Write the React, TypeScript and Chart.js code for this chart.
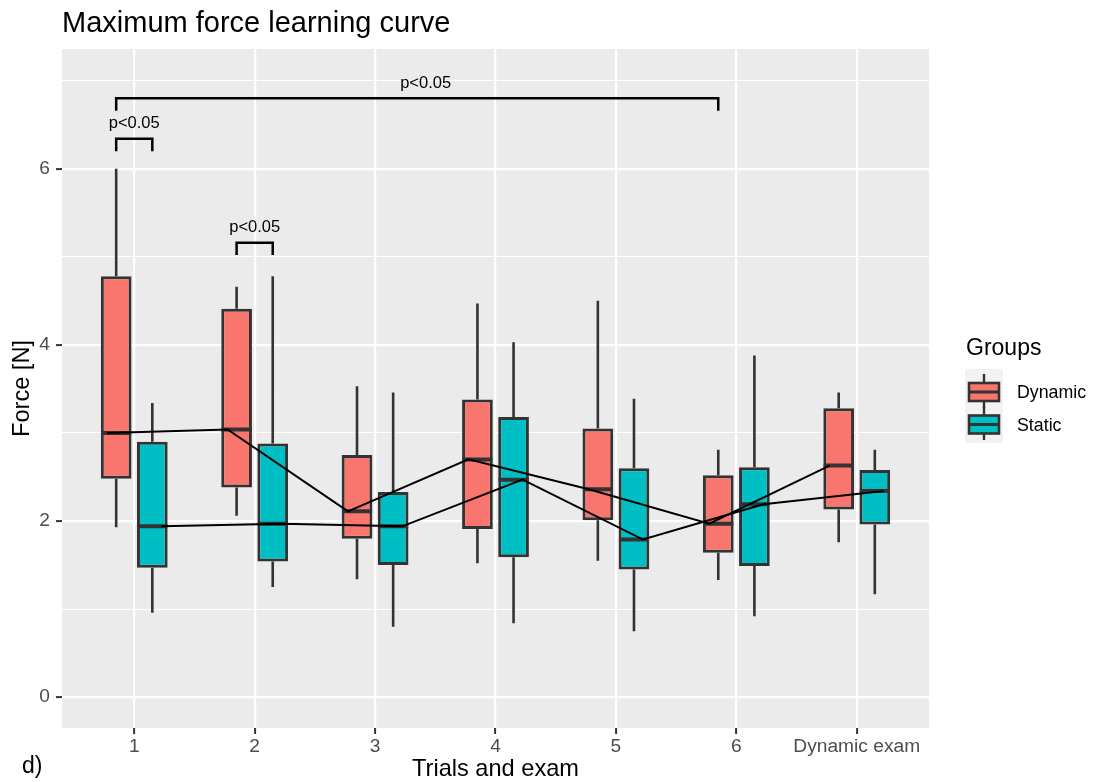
import React, { useEffect, useRef } from 'react';
import { Chart, registerables } from 'chart.js';

Chart.register(...registerables);

const FONT = '"Liberation Sans", Arial, Helvetica, sans-serif';

// ---- data ----
const CATEGORIES = ['1', '2', '3', '4', '5', '6', 'Dynamic exam'];
const GROUPS = ['Dynamic', 'Static'];
const Y_TICKS = [0, 1, 2, 3, 4, 5, 6, 7];

const DYN_MIN = [1.93, 2.06, 1.34, 1.52, 1.55, 1.33, 1.76];
const DYN_Q1 = [2.48, 2.38, 1.8, 1.91, 2.01, 1.64, 2.13];
const DYN_MED = [3.0, 3.04, 2.11, 2.7, 2.36, 1.97, 2.63];
const DYN_Q3 = [4.78, 4.41, 2.75, 3.38, 3.05, 2.52, 3.28];
const DYN_MAX = [6.0, 4.66, 3.53, 4.47, 4.5, 2.81, 3.46];

const STA_MIN = [0.96, 1.25, 0.8, 0.84, 0.75, 0.92, 1.17];
const STA_Q1 = [1.47, 1.54, 1.5, 1.59, 1.45, 1.49, 1.96];
const STA_MED = [1.94, 1.97, 1.94, 2.47, 1.79, 2.19, 2.34];
const STA_Q3 = [2.9, 2.88, 2.33, 3.18, 2.6, 2.61, 2.58];
const STA_MAX = [3.34, 4.78, 3.46, 4.03, 3.39, 3.88, 2.81];

// significance brackets
const BRACKET_FROM_CAT = [1, 1, 2];
const BRACKET_FROM_GROUP = ['Dynamic', 'Dynamic', 'Dynamic'];
const BRACKET_TO_CAT = [6, 1, 2];
const BRACKET_TO_GROUP = ['Dynamic', 'Static', 'Static'];
const BRACKET_Y = [6.8, 6.34, 5.16];
const BRACKET_LABEL = ['p<0.05', 'p<0.05', 'p<0.05'];
const BRACKET_LABEL_X = [3.42, 1.0, 2.0];

// ---- styles ----
const DYN_COLOR = '#F8766D';
const STA_COLOR = '#00BFC4';
const EDGE = '#333333';
const BOX_DODGE = 0.15;
const HALF_BOX = 0.125;
const LINE_DODGE = 0.225;
const LEG = 0.14;
const LABEL_GAP = 0.17;

const groupOffset = (g: string) => (g === 'Dynamic' ? -BOX_DODGE : BOX_DODGE);

function boxData(off: number, q1: number[], q3: number[]) {
  return CATEGORIES.map((_, i) => ({ x: i + 1 + off, y: [q1[i], q3[i]] }));
}

function whiskerData(off: number, mn: number[], q1: number[], q3: number[], mx: number[]) {
  const pts: any[] = [];
  CATEGORIES.forEach((_, i) => {
    const x = i + 1 + off;
    pts.push({ x, y: mx[i] }, { x, y: q3[i] }, { x, y: null }, { x, y: q1[i] }, { x, y: mn[i] }, { x, y: null });
  });
  return pts;
}

function medianData(off: number, med: number[]) {
  const pts: any[] = [];
  CATEGORIES.forEach((_, i) => {
    const x = i + 1 + off;
    pts.push({ x: x - HALF_BOX, y: med[i] }, { x: x + HALF_BOX, y: med[i] }, { x: x + HALF_BOX, y: null });
  });
  return pts;
}

function trendData(off: number, med: number[]) {
  return CATEGORIES.map((_, i) => ({ x: i + 1 + off, y: med[i] }));
}

function bracketData(i: number) {
  const x1 = BRACKET_FROM_CAT[i] + groupOffset(BRACKET_FROM_GROUP[i]);
  const x2 = BRACKET_TO_CAT[i] + groupOffset(BRACKET_TO_GROUP[i]);
  const yt = BRACKET_Y[i];
  return [
    { x: x1, y: yt - LEG },
    { x: x1, y: yt },
    { x: x2, y: yt },
    { x: x2, y: yt - LEG },
  ];
}

const lineBase = {
  type: 'line' as const,
  pointRadius: 0,
  spanGaps: false,
  fill: false,
  tension: 0,
};

const bgPlugin = {
  id: 'panelBg',
  beforeDraw(chart: any) {
    const { ctx, chartArea: a, width, height } = chart;
    ctx.save();
    ctx.fillStyle = '#FFFFFF';
    ctx.fillRect(0, 0, width, height);
    ctx.fillStyle = '#EBEBEB';
    ctx.fillRect(a.left, a.top, a.right - a.left, a.bottom - a.top);
    ctx.restore();
  },
};

const overlayPlugin = {
  id: 'overlay',
  afterDatasetsDraw(chart: any) {
    const { ctx, scales } = chart;
    const xs = scales.x;
    const ys = scales.y;
    ctx.save();
    ctx.font = `16.5px ${FONT}`;
    ctx.fillStyle = '#000000';
    ctx.textAlign = 'center';
    ctx.textBaseline = 'middle';
    BRACKET_LABEL.forEach((t, i) => {
      ctx.fillText(t, xs.getPixelForValue(BRACKET_LABEL_X[i]), ys.getPixelForValue(BRACKET_Y[i] + LABEL_GAP));
    });
    ctx.restore();
  },
  afterDraw(chart: any) {
    const { ctx } = chart;
    ctx.save();
    // title
    ctx.fillStyle = '#000000';
    ctx.textAlign = 'left';
    ctx.textBaseline = 'alphabetic';
    ctx.font = `29px ${FONT}`;
    ctx.fillText('Maximum force learning curve', 62, 32);
    // tag
    ctx.font = `23px ${FONT}`;
    ctx.fillText('d)', 22, 773);
    // legend
    ctx.fillText('Groups', 966, 355);
    const keyX = 965;
    const keyW = 38;
    const keyTop = 369;
    const keyH = 37;
    ctx.fillStyle = '#F2F2F2';
    ctx.fillRect(keyX, keyTop, keyW, keyH * GROUPS.length);
    const centers = [392, 424.5];
    const textYs = [393, 426];
    GROUPS.forEach((g, i) => {
      const cx = keyX + keyW / 2;
      const cy = centers[i];
      ctx.strokeStyle = EDGE;
      ctx.lineWidth = 2.4;
      ctx.beginPath();
      ctx.moveTo(cx, Math.max(keyTop + 3, cy - 18));
      ctx.lineTo(cx, Math.min(keyTop + keyH * GROUPS.length - 3, cy + 16));
      ctx.stroke();
      ctx.fillStyle = i === 0 ? DYN_COLOR : STA_COLOR;
      ctx.fillRect(cx - 15, cy - 9, 30, 18);
      ctx.lineWidth = 2.6;
      ctx.strokeRect(cx - 15, cy - 9, 30, 18);
      ctx.lineWidth = 3;
      ctx.beginPath();
      ctx.moveTo(cx - 15, cy);
      ctx.lineTo(cx + 15, cy);
      ctx.stroke();
      ctx.fillStyle = '#000000';
      ctx.font = `17.8px ${FONT}`;
      ctx.textBaseline = 'middle';
      ctx.fillText(g, 1017, textYs[i]);
      ctx.textBaseline = 'alphabetic';
    });
    ctx.restore();
  },
};

export default function App() {
  const ref = useRef<HTMLCanvasElement | null>(null);

  useEffect(() => {
    if (!ref.current) return;
    Chart.defaults.font.family = FONT;

    const datasets: any[] = [
      {
        ...lineBase,
        label: 'whiskers-dyn',
        data: whiskerData(-BOX_DODGE, DYN_MIN, DYN_Q1, DYN_Q3, DYN_MAX),
        borderColor: EDGE,
        borderWidth: 2.6,
        order: 5,
      },
      {
        ...lineBase,
        label: 'whiskers-sta',
        data: whiskerData(BOX_DODGE, STA_MIN, STA_Q1, STA_Q3, STA_MAX),
        borderColor: EDGE,
        borderWidth: 2.6,
        order: 5,
      },
      {
        type: 'bar',
        label: 'Dynamic',
        data: boxData(-BOX_DODGE, DYN_Q1, DYN_Q3),
        backgroundColor: DYN_COLOR,
        borderColor: EDGE,
        borderWidth: 3,
        borderSkipped: false,
        grouped: false,
        barPercentage: 0.85,
        categoryPercentage: 1,
        order: 4,
      },
      {
        type: 'bar',
        label: 'Static',
        data: boxData(BOX_DODGE, STA_Q1, STA_Q3),
        backgroundColor: STA_COLOR,
        borderColor: EDGE,
        borderWidth: 3,
        borderSkipped: false,
        grouped: false,
        barPercentage: 0.85,
        categoryPercentage: 1,
        order: 4,
      },
      {
        ...lineBase,
        label: 'median-dyn',
        data: medianData(-BOX_DODGE, DYN_MED),
        borderColor: EDGE,
        borderWidth: 4,
        borderCapStyle: 'butt',
        order: 3,
      },
      {
        ...lineBase,
        label: 'median-sta',
        data: medianData(BOX_DODGE, STA_MED),
        borderColor: EDGE,
        borderWidth: 4,
        borderCapStyle: 'butt',
        order: 3,
      },
      {
        ...lineBase,
        label: 'trend-dyn',
        data: trendData(-LINE_DODGE, DYN_MED),
        borderColor: '#000000',
        borderWidth: 2,
        order: 2,
      },
      {
        ...lineBase,
        label: 'trend-sta',
        data: trendData(LINE_DODGE, STA_MED),
        borderColor: '#000000',
        borderWidth: 2,
        order: 2,
      },
      ...BRACKET_Y.map((_, i) => ({
        ...lineBase,
        label: 'bracket-' + i,
        data: bracketData(i),
        borderColor: '#000000',
        borderWidth: 2.5,
        borderJoinStyle: 'miter',
        borderCapStyle: 'butt',
        order: 1,
      })),
    ];

    const chart = new Chart(ref.current, {
      type: 'line',
      data: { datasets },
      options: {
        responsive: false,
        animation: false,
        events: [],
        layout: { padding: { left: 0, top: 49, right: 169, bottom: 0 } },
        plugins: {
          legend: { display: false },
          tooltip: { enabled: false },
          title: { display: false },
        },
        scales: {
          x: {
            type: 'linear',
            min: 0.4,
            max: 7.6,
            offset: false,
            afterBuildTicks: (scale: any) => {
              scale.ticks = CATEGORIES.map((_, i) => ({ value: i + 1 }));
            },
            afterFit: (scale: any) => {
              scale.height = 54;
            },
            grid: {
              color: '#FFFFFF',
              lineWidth: 2.2,
              offset: false,
              tickLength: 6,
              tickWidth: 2,
              tickColor: EDGE,
            },
            border: { display: false },
            ticks: {
              autoSkip: false,
              maxRotation: 0,
              padding: 1,
              color: '#4D4D4D',
              font: { size: 19.2, family: FONT },
              callback: (v: any) => CATEGORIES[Math.round(Number(v)) - 1] ?? '',
            },
            title: {
              display: true,
              text: 'Trials and exam',
              color: '#000000',
              font: { size: 23.6, family: FONT },
              padding: { top: 0, bottom: -2 },
            },
          },
          y: {
            type: 'linear',
            min: -0.35,
            max: 7.36,
            afterBuildTicks: (scale: any) => {
              scale.ticks = Y_TICKS.map((v) => ({ value: v }));
            },
            afterFit: (scale: any) => {
              scale.width = 62;
            },
            grid: {
              color: '#FFFFFF',
              lineWidth: (c: any) => (c.tick && c.tick.value % 2 === 0 ? 2.2 : 1.1),
              tickLength: 6,
              tickWidth: 2,
              tickColor: (c: any) => (c.tick && c.tick.value % 2 === 0 ? EDGE : 'rgba(0,0,0,0)'),
            },
            border: { display: false },
            ticks: {
              padding: 6,
              color: '#4D4D4D',
              font: { size: 19.2, family: FONT },
              callback: (v: any) => (Number(v) % 2 === 0 ? String(v) : ''),
            },
            title: {
              display: true,
              text: 'Force [N]',
              color: '#000000',
              font: { size: 23.6, family: FONT },
              padding: { top: 8, bottom: 0 },
            },
          },
        },
      } as any,
      plugins: [bgPlugin, overlayPlugin],
    });

    return () => chart.destroy();
  }, []);

  return (
    <div style={{ position: 'fixed', left: 0, top: 0, width: 1098, height: 782, background: '#FFFFFF' }}>
      <canvas ref={ref} width={1098} height={782} style={{ display: 'block', width: 1098, height: 782 }} />
    </div>
  );
}
